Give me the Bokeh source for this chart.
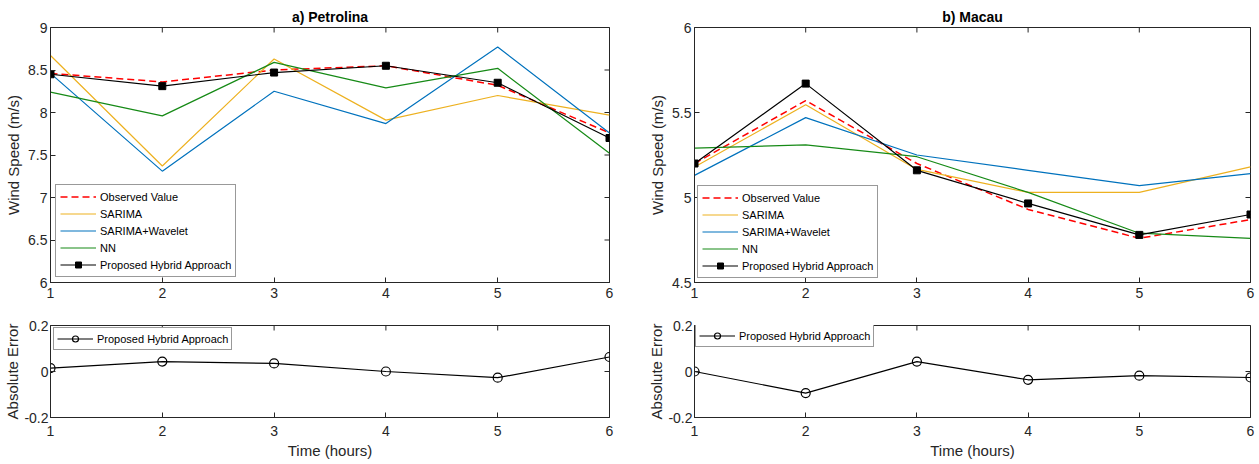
import math
from bokeh.plotting import figure
from bokeh.models import Range1d, FixedTicker, NumeralTickFormatter
from bokeh.layouts import column, row
from bokeh.embed import file_html
from bokeh.resources import INLINE

# ---------------- data ----------------
hours = [1, 2, 3, 4, 5, 6]

petrolina_observed = [8.46, 8.36, 8.50, 8.55, 8.32, 7.76]
petrolina_sarima = [8.67, 7.37, 8.63, 7.91, 8.20, 7.97]
petrolina_wavelet = [8.46, 7.31, 8.25, 7.87, 8.77, 7.76]
petrolina_nn = [8.24, 7.96, 8.59, 8.29, 8.52, 7.52]
petrolina_hybrid = [8.45, 8.31, 8.47, 8.55, 8.35, 7.70]
petrolina_error = [0.015, 0.043, 0.035, 0.0, -0.027, 0.063]

macau_observed = [5.20, 5.57, 5.20, 4.93, 4.76, 4.87]
macau_sarima = [5.18, 5.545, 5.165, 5.03, 5.03, 5.18]
macau_wavelet = [5.13, 5.47, 5.25, 5.16, 5.07, 5.14]
macau_nn = [5.29, 5.31, 5.24, 5.03, 4.79, 4.76]
macau_hybrid = [5.20, 5.67, 5.16, 4.965, 4.78, 4.90]
macau_error = [0.0, -0.094, 0.043, -0.036, -0.018, -0.026]

x_ticks = [1, 2, 3, 4, 5, 6]
petrolina_y_ticks = [6, 6.5, 7, 7.5, 8, 8.5, 9]
macau_y_ticks = [4.5, 5, 5.5, 6]
error_y_ticks = [-0.2, 0, 0.2]

series_labels = ["Observed Value", "SARIMA", "SARIMA+Wavelet", "NN", "Proposed Hybrid Approach"]

# ---------------- style ----------------
FONT = "Liberation Sans"
AX = "#262626"
C_OBS = "#FF0000"
C_SAR = "#EDB120"
C_WAV = "#0072BD"
C_NN = "#168A16"


def make_fig(width, height, left, right, top, bottom, yr, yticks, xlabel=None, ylabel=None,
             title=None, xstand=5, ystand=(3, 3)):
    p = figure(width=width, height=height, x_range=Range1d(1, 6), y_range=Range1d(*yr),
               output_backend="svg", toolbar_location=None,
               min_border_left=left, min_border_right=right,
               min_border_top=top, min_border_bottom=bottom)
    p.background_fill_color = "white"
    p.border_fill_color = "white"
    p.outline_line_color = AX
    p.outline_line_width = 1
    p.xgrid.grid_line_color = None
    p.ygrid.grid_line_color = None
    for ax, ticks in ((p.xaxis[0], x_ticks), (p.yaxis[0], yticks)):
        ax.ticker = FixedTicker(ticks=ticks)
        ax.formatter = NumeralTickFormatter(format="0.[0]")
        ax.axis_line_color = AX
        ax.major_tick_line_color = AX
        ax.major_tick_in = 5
        ax.major_tick_out = 0
        ax.minor_tick_line_color = None
        ax.major_label_text_font = FONT
        ax.major_label_text_font_size = "14px"
        ax.major_label_text_color = AX
        ax.axis_label_text_font = FONT
        ax.axis_label_text_font_size = "15px"
        ax.axis_label_text_font_style = "normal"
        ax.axis_label_text_color = AX
    p.yaxis[0].major_label_standoff = ystand[0]
    p.yaxis[0].axis_label_standoff = ystand[1]
    p.xaxis[0].major_label_standoff = xstand
    p.xaxis[0].axis_label_standoff = 3
    if xlabel:
        p.xaxis[0].axis_label = xlabel
    if ylabel:
        p.yaxis[0].axis_label = ylabel
    # mirrored inward ticks on the top and right edges (box on); half of each
    # dash is clipped by the frame, leaving an inward tick
    xr, yrng = p.x_range, p.y_range
    p.scatter(x_ticks, [yrng.end] * len(x_ticks), marker="dash", size=10,
              angle=math.pi / 2, line_color=AX, line_width=1)
    p.scatter([xr.end] * len(yticks), yticks, marker="dash", size=10,
              line_color=AX, line_width=1)
    if title:
        p.title.text = title
        p.title.text_font = FONT
        p.title.text_font_size = "14px"
        p.title.text_font_style = "bold"
        p.title.text_color = "black"
        p.title.align = "center"
        p.title.standoff = 6
    return p


def style_legend(p, loc, rows):
    lg = p.legend[0]
    lg.location = loc
    lg.margin = 0
    lg.padding = 4 if rows > 1 else 3
    lg.spacing = 2
    lg.label_height = 15
    lg.glyph_height = 15
    lg.glyph_width = 36
    lg.label_standoff = 4
    lg.label_text_font = FONT
    lg.label_text_font_size = "11px"
    lg.label_text_color = "black"
    lg.border_line_color = "#333333"
    lg.border_line_width = 1
    lg.background_fill_color = "white"
    lg.background_fill_alpha = 1


def top_plot(width, left, right, yr, yticks, title, obs, sar, wav, nn, hyb, loc):
    p = make_fig(width, 303, left, right, 27, 21, yr, yticks, ylabel="Wind Speed (m/s)",
                 title=title)
    p.line(hours, obs, color=C_OBS, line_width=1.5, line_dash="7 4", legend_label=series_labels[0])
    p.line(hours, sar, color=C_SAR, line_width=1.2, legend_label=series_labels[1])
    p.line(hours, wav, color=C_WAV, line_width=1.2, legend_label=series_labels[2])
    p.line(hours, nn, color=C_NN, line_width=1.2, legend_label=series_labels[3])
    p.line(hours, hyb, color="black", line_width=1.2, legend_label=series_labels[4])
    p.scatter(hours, hyb, marker="square", size=7, color="black", legend_label=series_labels[4])
    style_legend(p, loc, 5)
    return p


def bottom_plot(width, left, right, err, loc):
    p = make_fig(width, 161, left, right, 22, 47, (-0.2, 0.2), error_y_ticks,
                 xlabel="Time (hours)", ylabel="Absolute Error", xstand=8, ystand=(2, 0))
    p.line(hours, err, color="black", line_width=1.2, legend_label=series_labels[4])
    p.scatter(hours, err, marker="circle", size=9, fill_color=None, line_color="black",
              line_width=1.2, legend_label=series_labels[4])
    style_legend(p, loc, 1)
    return p


p1 = top_plot(645, 50, 36, (6, 9), petrolina_y_ticks, "a) Petrolina",
              petrolina_observed, petrolina_sarima, petrolina_wavelet, petrolina_nn,
              petrolina_hybrid, (5, 5))
p2 = top_plot(614, 49, 9, (4.5, 6), macau_y_ticks, "b) Macau",
              macau_observed, macau_sarima, macau_wavelet, macau_nn, macau_hybrid, (3, 4))
p3 = bottom_plot(645, 50, 36, petrolina_error, (3, 67))
p4 = bottom_plot(614, 49, 9, macau_error, (1, 70))

layout = column(row(p1, p2, spacing=0), row(p3, p4, spacing=0), spacing=0)

with open("out.html", "w") as f:
    f.write(file_html(layout, INLINE))
